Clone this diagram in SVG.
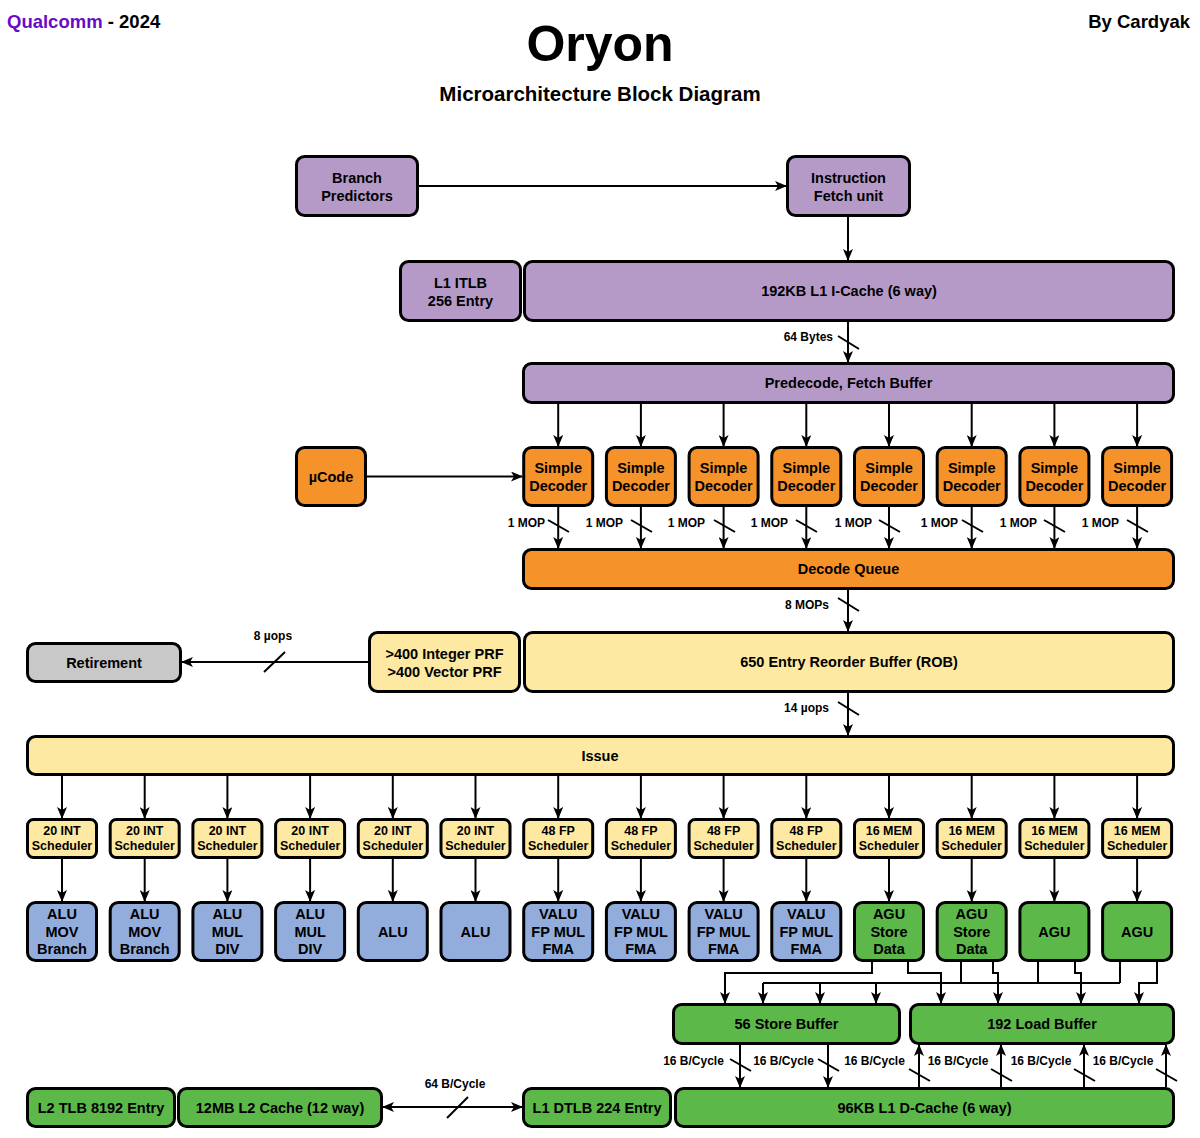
<svg xmlns="http://www.w3.org/2000/svg" width="1200" height="1138" viewBox="0 0 1200 1138">
<style>
text{font-family:"Liberation Sans",Arial,sans-serif;font-weight:bold;fill:#000}
.n rect{stroke:#000;stroke-width:3}
.t{font-size:14.5px;text-anchor:middle;dominant-baseline:central}
.s{font-size:12.5px;text-anchor:middle;dominant-baseline:central}
.l{font-size:12px;dominant-baseline:central}
.lm{text-anchor:middle}
.le{text-anchor:end}
.pu rect{fill:#b59ac8}
.or rect{fill:#f5922a}
.ye rect{fill:#fde9a1}
.gr rect{fill:#c8c8c8}
.bl rect{fill:#92acdc}
.gn rect{fill:#5db84a}
#connectors path{fill:none;stroke:#000;stroke-width:2}
#connectors .a{marker-end:url(#ah)}
#connectors .b{marker-end:url(#ah);marker-start:url(#ah)}
#connectors .sl{stroke-width:2}
</style>
<defs>
<marker id="ah" viewBox="0 0 12 10" refX="11" refY="5" markerWidth="12" markerHeight="10" markerUnits="userSpaceOnUse" orient="auto-start-reverse">
<path d="M0,0 L12,5 L0,10 L3,5 z" fill="#000"/>
</marker>
</defs>
<rect width="1200" height="1138" fill="#fff"/>
<g id="header">
<text x="7" y="28" font-size="18.5"><tspan fill="#6a0ac8">Qualcomm</tspan> - 2024</text>
<text x="1190" y="28" font-size="18.5" text-anchor="end">By Cardyak</text>
<text x="600" y="61" font-size="50" text-anchor="middle">Oryon</text>
<text x="600" y="101" font-size="20.5" text-anchor="middle">Microarchitecture Block Diagram</text>
</g>
<g id="connectors">
<path class="a" d="M419,186 H786"/>
<path class="a" d="M848,217 V260"/>
<path class="a" d="M848,322 V362"/>
<path class="sl" d="M838,336 L859,349"/>
<path class="a" d="M558.2,404 V446"/>
<path class="a" d="M640.9,404 V446"/>
<path class="a" d="M723.6,404 V446"/>
<path class="a" d="M806.3,404 V446"/>
<path class="a" d="M889,404 V446"/>
<path class="a" d="M971.7,404 V446"/>
<path class="a" d="M1054.4,404 V446"/>
<path class="a" d="M1137.1,404 V446"/>
<path class="a" d="M367,476.5 H522"/>
<path class="a" d="M558.2,507 V548"/>
<path class="a" d="M640.9,507 V548"/>
<path class="a" d="M723.6,507 V548"/>
<path class="a" d="M806.3,507 V548"/>
<path class="a" d="M889,507 V548"/>
<path class="a" d="M971.7,507 V548"/>
<path class="a" d="M1054.4,507 V548"/>
<path class="a" d="M1137.1,507 V548"/>
<path class="sl" d="M548,520 L569,532"/>
<path class="sl" d="M631,520 L652,532"/>
<path class="sl" d="M714,520 L735,532"/>
<path class="sl" d="M796,520 L817,532"/>
<path class="sl" d="M879,520 L900,532"/>
<path class="sl" d="M962,520 L983,532"/>
<path class="sl" d="M1044,520 L1065,532"/>
<path class="sl" d="M1127,520 L1148,532"/>
<path class="a" d="M848,590 V631"/>
<path class="sl" d="M838,598 L859,611"/>
<path class="a" d="M368,662 H182"/>
<path class="sl" d="M264,672 L285,652"/>
<path class="a" d="M848,693 V735"/>
<path class="sl" d="M838,702 L859,715"/>
<path class="a" d="M62,776 V818"/>
<path class="a" d="M144.7,776 V818"/>
<path class="a" d="M227.4,776 V818"/>
<path class="a" d="M310.1,776 V818"/>
<path class="a" d="M392.8,776 V818"/>
<path class="a" d="M475.5,776 V818"/>
<path class="a" d="M558.2,776 V818"/>
<path class="a" d="M640.9,776 V818"/>
<path class="a" d="M723.6,776 V818"/>
<path class="a" d="M806.3,776 V818"/>
<path class="a" d="M889,776 V818"/>
<path class="a" d="M971.7,776 V818"/>
<path class="a" d="M1054.4,776 V818"/>
<path class="a" d="M1137.1,776 V818"/>
<path class="a" d="M62,859 V901"/>
<path class="a" d="M144.7,859 V901"/>
<path class="a" d="M227.4,859 V901"/>
<path class="a" d="M310.1,859 V901"/>
<path class="a" d="M392.8,859 V901"/>
<path class="a" d="M475.5,859 V901"/>
<path class="a" d="M558.2,859 V901"/>
<path class="a" d="M640.9,859 V901"/>
<path class="a" d="M723.6,859 V901"/>
<path class="a" d="M806.3,859 V901"/>
<path class="a" d="M889,859 V901"/>
<path class="a" d="M971.7,859 V901"/>
<path class="a" d="M1054.4,859 V901"/>
<path class="a" d="M1137.1,859 V901"/>
<path class="a" d="M872,962 V973 H725 V1003"/>
<path class="a" d="M908,962 V973 H941 V1003"/>
<path d="M1120,983 H763"/>
<path class="a" d="M763,983 V1003"/>
<path class="a" d="M820,983 V1003"/>
<path class="a" d="M876,983 V1003"/>
<path d="M961,962 V983"/>
<path d="M1038,962 V983"/>
<path d="M1120,962 V983"/>
<path class="a" d="M993,962 V973 H998 V1003"/>
<path class="a" d="M1075,962 V973 H1081 V1003"/>
<path class="a" d="M1157,962 V983 H1139 V1003"/>
<path class="a" d="M740,1045 V1087"/>
<path class="a" d="M828,1045 V1087"/>
<path class="sl" d="M730,1059 L751,1071"/>
<path class="sl" d="M818,1059 L839,1071"/>
<path class="a" d="M919,1087 V1045"/>
<path class="a" d="M1001,1087 V1045"/>
<path class="a" d="M1084,1087 V1045"/>
<path class="a" d="M1166,1087 V1045"/>
<path class="sl" d="M909,1069 L930,1081"/>
<path class="sl" d="M991,1069 L1012,1081"/>
<path class="sl" d="M1074,1069 L1095,1081"/>
<path class="sl" d="M1156,1069 L1177,1081"/>
<path class="b" d="M383,1107 H522"/>
<path class="sl" d="M447,1118 L468,1097"/>
</g>
<g id="labels">
<text class="l le" x="833" y="337">64 Bytes</text>
<text class="l le" x="545" y="523">1 MOP</text>
<text class="l le" x="623" y="523">1 MOP</text>
<text class="l le" x="705" y="523">1 MOP</text>
<text class="l le" x="788" y="523">1 MOP</text>
<text class="l le" x="872" y="523">1 MOP</text>
<text class="l le" x="958" y="523">1 MOP</text>
<text class="l le" x="1037" y="523">1 MOP</text>
<text class="l le" x="1119" y="523">1 MOP</text>
<text class="l le" x="829" y="605">8 MOPs</text>
<text class="l lm" x="273" y="636">8 µops</text>
<text class="l le" x="829" y="708">14 µops</text>
<text class="l lm" x="693.5" y="1061">16 B/Cycle</text>
<text class="l lm" x="783.5" y="1061">16 B/Cycle</text>
<text class="l lm" x="874.5" y="1061">16 B/Cycle</text>
<text class="l lm" x="958" y="1061">16 B/Cycle</text>
<text class="l lm" x="1041" y="1061">16 B/Cycle</text>
<text class="l lm" x="1123" y="1061">16 B/Cycle</text>
<text class="l lm" x="455" y="1084">64 B/Cycle</text>
</g>
<g id="branch-predictors" class="n pu"><rect x="296.5" y="156.5" width="121" height="59" rx="8"/><text class="t" x="357" y="177.5">Branch</text><text class="t" x="357" y="195.5">Predictors</text></g>
<g id="fetch-unit" class="n pu"><rect x="787.5" y="156.5" width="122" height="59" rx="8"/><text class="t" x="848.5" y="177.5">Instruction</text><text class="t" x="848.5" y="195.5">Fetch unit</text></g>
<g id="l1-itlb" class="n pu"><rect x="400.5" y="261.5" width="120" height="59" rx="8"/><text class="t" x="460.5" y="282.5">L1 ITLB</text><text class="t" x="460.5" y="300.5">256 Entry</text></g>
<g id="l1-icache" class="n pu"><rect x="524.5" y="261.5" width="649" height="59" rx="8"/><text class="t" x="849" y="291">192KB L1 I-Cache (6 way)</text></g>
<g id="predecode" class="n pu"><rect x="523.5" y="363.5" width="650" height="39" rx="8"/><text class="t" x="848.5" y="383">Predecode, Fetch Buffer</text></g>
<g id="ucode" class="n or"><rect x="296.5" y="447.5" width="69" height="58" rx="8"/><text class="t" x="331" y="476.5">µCode</text></g>
<g id="dec1" class="n or"><rect x="523.7" y="447.5" width="69" height="58" rx="8"/><text class="t" x="558.2" y="468">Simple</text><text class="t" x="558.2" y="486">Decoder</text></g>
<g id="dec2" class="n or"><rect x="606.4" y="447.5" width="69" height="58" rx="8"/><text class="t" x="640.9" y="468">Simple</text><text class="t" x="640.9" y="486">Decoder</text></g>
<g id="dec3" class="n or"><rect x="689.1" y="447.5" width="69" height="58" rx="8"/><text class="t" x="723.6" y="468">Simple</text><text class="t" x="723.6" y="486">Decoder</text></g>
<g id="dec4" class="n or"><rect x="771.8" y="447.5" width="69" height="58" rx="8"/><text class="t" x="806.3" y="468">Simple</text><text class="t" x="806.3" y="486">Decoder</text></g>
<g id="dec5" class="n or"><rect x="854.5" y="447.5" width="69" height="58" rx="8"/><text class="t" x="889" y="468">Simple</text><text class="t" x="889" y="486">Decoder</text></g>
<g id="dec6" class="n or"><rect x="937.2" y="447.5" width="69" height="58" rx="8"/><text class="t" x="971.7" y="468">Simple</text><text class="t" x="971.7" y="486">Decoder</text></g>
<g id="dec7" class="n or"><rect x="1019.9" y="447.5" width="69" height="58" rx="8"/><text class="t" x="1054.4" y="468">Simple</text><text class="t" x="1054.4" y="486">Decoder</text></g>
<g id="dec8" class="n or"><rect x="1102.6" y="447.5" width="69" height="58" rx="8"/><text class="t" x="1137.1" y="468">Simple</text><text class="t" x="1137.1" y="486">Decoder</text></g>
<g id="decode-queue" class="n or"><rect x="523.5" y="549.5" width="650" height="39" rx="8"/><text class="t" x="848.5" y="569">Decode Queue</text></g>
<g id="retirement" class="n gr"><rect x="27.5" y="643.5" width="153" height="38" rx="8"/><text class="t" x="104" y="662.5">Retirement</text></g>
<g id="prf" class="n ye"><rect x="369.5" y="632.5" width="150" height="59" rx="8"/><text class="t" x="444.5" y="653.5">&gt;400 Integer PRF</text><text class="t" x="444.5" y="671.5">&gt;400 Vector PRF</text></g>
<g id="rob" class="n ye"><rect x="524.5" y="632.5" width="649" height="59" rx="8"/><text class="t" x="849" y="662">650 Entry Reorder Buffer (ROB)</text></g>
<g id="issue" class="n ye"><rect x="27.5" y="736.5" width="1146" height="38" rx="8"/><text class="t" x="600" y="755.5">Issue</text></g>
<g id="sch1" class="n ye"><rect x="27.5" y="819.5" width="69" height="38" rx="6"/><text class="s" x="62" y="830.5">20 INT</text><text class="s" x="62" y="846">Scheduler</text></g>
<g id="sch2" class="n ye"><rect x="110.2" y="819.5" width="69" height="38" rx="6"/><text class="s" x="144.7" y="830.5">20 INT</text><text class="s" x="144.7" y="846">Scheduler</text></g>
<g id="sch3" class="n ye"><rect x="192.9" y="819.5" width="69" height="38" rx="6"/><text class="s" x="227.4" y="830.5">20 INT</text><text class="s" x="227.4" y="846">Scheduler</text></g>
<g id="sch4" class="n ye"><rect x="275.6" y="819.5" width="69" height="38" rx="6"/><text class="s" x="310.1" y="830.5">20 INT</text><text class="s" x="310.1" y="846">Scheduler</text></g>
<g id="sch5" class="n ye"><rect x="358.3" y="819.5" width="69" height="38" rx="6"/><text class="s" x="392.8" y="830.5">20 INT</text><text class="s" x="392.8" y="846">Scheduler</text></g>
<g id="sch6" class="n ye"><rect x="441" y="819.5" width="69" height="38" rx="6"/><text class="s" x="475.5" y="830.5">20 INT</text><text class="s" x="475.5" y="846">Scheduler</text></g>
<g id="sch7" class="n ye"><rect x="523.7" y="819.5" width="69" height="38" rx="6"/><text class="s" x="558.2" y="830.5">48 FP</text><text class="s" x="558.2" y="846">Scheduler</text></g>
<g id="sch8" class="n ye"><rect x="606.4" y="819.5" width="69" height="38" rx="6"/><text class="s" x="640.9" y="830.5">48 FP</text><text class="s" x="640.9" y="846">Scheduler</text></g>
<g id="sch9" class="n ye"><rect x="689.1" y="819.5" width="69" height="38" rx="6"/><text class="s" x="723.6" y="830.5">48 FP</text><text class="s" x="723.6" y="846">Scheduler</text></g>
<g id="sch10" class="n ye"><rect x="771.8" y="819.5" width="69" height="38" rx="6"/><text class="s" x="806.3" y="830.5">48 FP</text><text class="s" x="806.3" y="846">Scheduler</text></g>
<g id="sch11" class="n ye"><rect x="854.5" y="819.5" width="69" height="38" rx="6"/><text class="s" x="889" y="830.5">16 MEM</text><text class="s" x="889" y="846">Scheduler</text></g>
<g id="sch12" class="n ye"><rect x="937.2" y="819.5" width="69" height="38" rx="6"/><text class="s" x="971.7" y="830.5">16 MEM</text><text class="s" x="971.7" y="846">Scheduler</text></g>
<g id="sch13" class="n ye"><rect x="1019.9" y="819.5" width="69" height="38" rx="6"/><text class="s" x="1054.4" y="830.5">16 MEM</text><text class="s" x="1054.4" y="846">Scheduler</text></g>
<g id="sch14" class="n ye"><rect x="1102.6" y="819.5" width="69" height="38" rx="6"/><text class="s" x="1137.1" y="830.5">16 MEM</text><text class="s" x="1137.1" y="846">Scheduler</text></g>
<g id="ex1" class="n bl"><rect x="27.5" y="902.5" width="69" height="58" rx="8"/><text class="t" x="62" y="913.5">ALU</text><text class="t" x="62" y="931.5">MOV</text><text class="t" x="62" y="949">Branch</text></g>
<g id="ex2" class="n bl"><rect x="110.2" y="902.5" width="69" height="58" rx="8"/><text class="t" x="144.7" y="913.5">ALU</text><text class="t" x="144.7" y="931.5">MOV</text><text class="t" x="144.7" y="949">Branch</text></g>
<g id="ex3" class="n bl"><rect x="192.9" y="902.5" width="69" height="58" rx="8"/><text class="t" x="227.4" y="913.5">ALU</text><text class="t" x="227.4" y="931.5">MUL</text><text class="t" x="227.4" y="949">DIV</text></g>
<g id="ex4" class="n bl"><rect x="275.6" y="902.5" width="69" height="58" rx="8"/><text class="t" x="310.1" y="913.5">ALU</text><text class="t" x="310.1" y="931.5">MUL</text><text class="t" x="310.1" y="949">DIV</text></g>
<g id="ex5" class="n bl"><rect x="358.3" y="902.5" width="69" height="58" rx="8"/><text class="t" x="392.8" y="931.5">ALU</text></g>
<g id="ex6" class="n bl"><rect x="441" y="902.5" width="69" height="58" rx="8"/><text class="t" x="475.5" y="931.5">ALU</text></g>
<g id="ex7" class="n bl"><rect x="523.7" y="902.5" width="69" height="58" rx="8"/><text class="t" x="558.2" y="913.5">VALU</text><text class="t" x="558.2" y="931.5">FP MUL</text><text class="t" x="558.2" y="949">FMA</text></g>
<g id="ex8" class="n bl"><rect x="606.4" y="902.5" width="69" height="58" rx="8"/><text class="t" x="640.9" y="913.5">VALU</text><text class="t" x="640.9" y="931.5">FP MUL</text><text class="t" x="640.9" y="949">FMA</text></g>
<g id="ex9" class="n bl"><rect x="689.1" y="902.5" width="69" height="58" rx="8"/><text class="t" x="723.6" y="913.5">VALU</text><text class="t" x="723.6" y="931.5">FP MUL</text><text class="t" x="723.6" y="949">FMA</text></g>
<g id="ex10" class="n bl"><rect x="771.8" y="902.5" width="69" height="58" rx="8"/><text class="t" x="806.3" y="913.5">VALU</text><text class="t" x="806.3" y="931.5">FP MUL</text><text class="t" x="806.3" y="949">FMA</text></g>
<g id="ex11" class="n gn"><rect x="854.5" y="902.5" width="69" height="58" rx="8"/><text class="t" x="889" y="913.5">AGU</text><text class="t" x="889" y="931.5">Store</text><text class="t" x="889" y="949">Data</text></g>
<g id="ex12" class="n gn"><rect x="937.2" y="902.5" width="69" height="58" rx="8"/><text class="t" x="971.7" y="913.5">AGU</text><text class="t" x="971.7" y="931.5">Store</text><text class="t" x="971.7" y="949">Data</text></g>
<g id="ex13" class="n gn"><rect x="1019.9" y="902.5" width="69" height="58" rx="8"/><text class="t" x="1054.4" y="931.5">AGU</text></g>
<g id="ex14" class="n gn"><rect x="1102.6" y="902.5" width="69" height="58" rx="8"/><text class="t" x="1137.1" y="931.5">AGU</text></g>
<g id="store-buffer" class="n gn"><rect x="673.5" y="1004.5" width="226" height="39" rx="8"/><text class="t" x="786.5" y="1024">56 Store Buffer</text></g>
<g id="load-buffer" class="n gn"><rect x="910.5" y="1004.5" width="263" height="39" rx="8"/><text class="t" x="1042" y="1024">192 Load Buffer</text></g>
<g id="l2-tlb" class="n gn"><rect x="27.5" y="1088.5" width="147" height="38" rx="8"/><text class="t" x="101" y="1107.5">L2 TLB 8192 Entry</text></g>
<g id="l2-cache" class="n gn"><rect x="178.5" y="1088.5" width="203" height="38" rx="8"/><text class="t" x="280" y="1107.5">12MB L2 Cache (12 way)</text></g>
<g id="l1-dtlb" class="n gn"><rect x="523.5" y="1088.5" width="147" height="38" rx="8"/><text class="t" x="597" y="1107.5">L1 DTLB 224 Entry</text></g>
<g id="l1-dcache" class="n gn"><rect x="675.5" y="1088.5" width="498" height="38" rx="8"/><text class="t" x="924.5" y="1107.5">96KB L1 D-Cache (6 way)</text></g>
</svg>
